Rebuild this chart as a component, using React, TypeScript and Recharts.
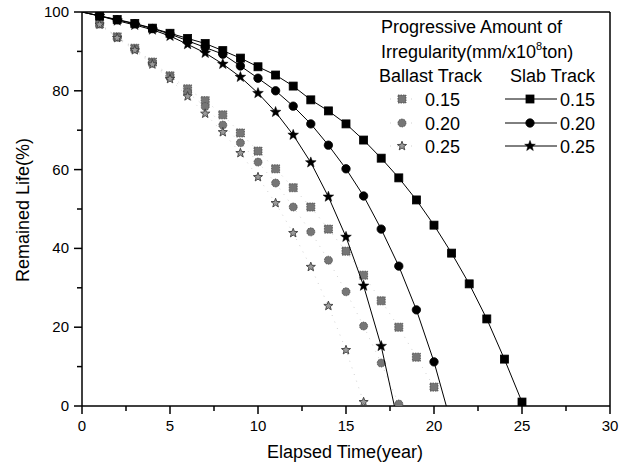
import React from "react";
import { ScatterChart, Scatter, XAxis, YAxis, ReferenceLine } from "recharts";

// elapsed years
const slabYears = [0, 1, 2, 3, 4, 5, 6, 7, 8, 9, 10, 11, 12, 13, 14, 15, 16, 17, 18, 19, 20, 21, 22, 23, 24, 25];
const ballastYears = [1, 2, 3, 4, 5, 6, 7, 8, 9, 10, 11, 12, 13, 14, 15, 16, 17, 18, 19, 20];

// remained life (%), slab track
const slab015 = [100, 99, 98.1, 97.1, 95.9, 94.6, 93.3, 92, 90.2, 88.3, 86.1, 84, 81.2, 77.7, 74.9, 71.6, 67.5, 62.9, 57.9, 52.3, 45.9, 38.8, 31, 22.1, 11.9, 1];
const slab020 = [100, 99, 98, 97, 95.8, 94.4, 92.7, 91, 89.3, 86.3, 83.2, 80, 76.1, 71.6, 66.2, 60.2, 53.3, 44.9, 35.5, 24.4, 11.2];
const slab025 = [100, 99, 97.8, 96.7, 95.5, 93.9, 91.8, 89.6, 86.8, 83.5, 79.4, 74.6, 68.8, 61.8, 53.1, 42.9, 30.5, 15.2];
// where the slab curves meet the axis (no marker)
const slab020End = { x: 20.7, y: 0 };
const slab025End = { x: 17.75, y: 0 };

// remained life (%), ballast track
const ballast015 = [97, 93.7, 90.8, 87.3, 83.8, 80.5, 77.5, 73.9, 69.3, 64.7, 60.2, 55.4, 50.5, 44.9, 39.3, 33.2, 26.7, 20, 12.4, 4.8];
const ballast020 = [97, 93.6, 90.6, 87, 83.5, 79.6, 76, 71.3, 66.8, 61.9, 56.6, 50.5, 44.2, 37, 29, 20.3, 10.9, 0.5];
const ballast025 = [96.8, 93.4, 90.3, 86.7, 83, 78.6, 74.2, 69.5, 64.2, 58.1, 51.5, 43.9, 35.3, 25.4, 14.2, 1];

const xTicks = [0, 2.5, 5, 7.5, 10, 12.5, 15, 17.5, 20, 22.5, 25, 27.5, 30];
const yTicks = [0, 10, 20, 30, 40, 50, 60, 70, 80, 90, 100];

const FONT = "'Liberation Sans', Arial, sans-serif";

const pts = (xs: number[], ys: number[]) =>
  ys.map((y, i) => ({ x: xs[i], y, hide: xs[i] === 0 }));

const starPath = (cx: number, cy: number, r: number) => {
  let d = "";
  for (let i = 0; i < 10; i++) {
    const rr = i % 2 === 0 ? r : r * 0.42;
    const a = -Math.PI / 2 + (i * Math.PI) / 5;
    d += (i === 0 ? "M" : "L") + (cx + rr * Math.cos(a)).toFixed(2) + "," + (cy + rr * Math.sin(a)).toFixed(2);
  }
  return d + "Z";
};

type Kind = "square" | "circle" | "star";

function marker(kind: Kind, cx: number, cy: number, ballast: boolean) {
  const fill = ballast ? "#767676" : "#000";
  const stroke = ballast ? "#4a4a4a" : "#000";
  if (kind === "square") {
    const s = ballast ? 8 : 8;
    return <rect x={cx - s / 2} y={cy - s / 2} width={s} height={s} fill={fill} stroke={stroke} strokeWidth={0.8} strokeDasharray={ballast ? "1.5 1" : undefined} />;
  }
  if (kind === "circle") {
    return <circle cx={cx} cy={cy} r={ballast ? 4 : 4.2} fill={fill} stroke={stroke} strokeWidth={0.8} strokeDasharray={ballast ? "1.5 1" : undefined} />;
  }
  return (
    <path
      d={starPath(cx, cy, ballast ? 4.8 : 5.6)}
      fill={ballast ? "#9a9a9a" : "#000"}
      stroke={ballast ? "#3c3c3c" : "#000"}
      strokeWidth={ballast ? 0.9 : 0.5}
    />
  );
}

const shape = (kind: Kind, ballast: boolean) => (props: any) => {
  if (props.payload?.hide || props.cx == null) return <g />;
  return marker(kind, props.cx, props.cy, ballast);
};

const XTick = ({ x, y, payload }: any) => {
  const major = payload.value % 5 === 0;
  return (
    <g>
      <line x1={x} y1={y} x2={x} y2={y + (major ? 8 : 5)} stroke="#000" strokeWidth={1.5} />
      {major && (
        <text x={x} y={y + 25} textAnchor="middle" fontSize={15} fontFamily={FONT} fill="#000">
          {payload.value}
        </text>
      )}
    </g>
  );
};

const YTick = ({ x, y, payload }: any) => {
  const major = payload.value % 20 === 0;
  return (
    <g>
      <line x1={x} y1={y} x2={x - (major ? 8 : 5)} y2={y} stroke="#000" strokeWidth={1.5} />
      {major && (
        <text x={x - 13} y={y + 5} textAnchor="end" fontSize={15} fontFamily={FONT} fill="#000">
          {payload.value}
        </text>
      )}
    </g>
  );
};

const legendRows: { label: string; kind: Kind; y: number }[] = [
  { label: "0.15", kind: "square", y: 99 },
  { label: "0.20", kind: "circle", y: 123 },
  { label: "0.25", kind: "star", y: 146 },
];

export default function App() {
  const slabLine = { stroke: "#000", strokeWidth: 1 };
  const ballastLine = { stroke: "#d2d2d2", strokeWidth: 1, strokeDasharray: "1 6" };
  const txt = { fontFamily: FONT, fontSize: 18, fill: "#000" };

  return (
    <div style={{ position: "absolute", left: 0, top: 0, width: 624, height: 471, background: "#fff" }}>
      <ScatterChart width={624} height={471} margin={{ top: 12, right: 14, bottom: 35, left: 22 }}>
        <XAxis
          type="number"
          dataKey="x"
          domain={[0, 30]}
          ticks={xTicks}
          tick={<XTick />}
          tickLine={false}
          tickSize={0}
          tickMargin={0}
          height={30}
          axisLine={{ stroke: "#000", strokeWidth: 1.5 }}
          allowDataOverflow
        />
        <YAxis
          type="number"
          dataKey="y"
          domain={[0, 100]}
          ticks={yTicks}
          tick={<YTick />}
          tickLine={false}
          tickSize={0}
          tickMargin={0}
          width={60}
          axisLine={{ stroke: "#000", strokeWidth: 1.5 }}
          allowDataOverflow
        />
        <ReferenceLine y={100} stroke="#000" strokeWidth={1.5} />
        <ReferenceLine x={30} stroke="#000" strokeWidth={1.5} />

        <Scatter data={pts(ballastYears, ballast015)} line={ballastLine} lineType="joint" shape={shape("square", true)} isAnimationActive={false} />
        <Scatter data={pts(ballastYears, ballast020)} line={ballastLine} lineType="joint" shape={shape("circle", true)} isAnimationActive={false} />
        <Scatter data={pts(ballastYears, ballast025)} line={ballastLine} lineType="joint" shape={shape("star", true)} isAnimationActive={false} />

        <Scatter data={pts(slabYears, slab015)} line={slabLine} lineType="joint" shape={shape("square", false)} isAnimationActive={false} />
        <Scatter
          data={[...pts(slabYears, slab020), { ...slab020End, hide: true }]}
          line={slabLine}
          lineType="joint"
          shape={shape("circle", false)}
          isAnimationActive={false}
        />
        <Scatter
          data={[...pts(slabYears, slab025), { ...slab025End, hide: true }]}
          line={slabLine}
          lineType="joint"
          shape={shape("star", false)}
          isAnimationActive={false}
        />
      </ScatterChart>

      <svg width={624} height={471} style={{ position: "absolute", left: 0, top: 0, pointerEvents: "none" }}>
        <text x={381} y={33} {...txt}>Progressive Amount of</text>
        <text x={381} y={58} {...txt}>
          Irregularity(mm/x10
          <tspan fontSize={11} dy={-8}>8</tspan>
          <tspan dy={8}>ton)</tspan>
        </text>
        <text x={379} y={82} {...txt}>Ballast Track</text>
        <text x={510} y={82} {...txt}>Slab Track</text>
        {legendRows.map((r) => (
          <g key={r.label}>
            <line x1={390} y1={r.y} x2={416} y2={r.y} stroke="#d2d2d2" strokeDasharray="1 6" />
            {marker(r.kind, 402, r.y, true)}
            <text x={425} y={r.y + 6.5} {...txt}>{r.label}</text>
            <line x1={505} y1={r.y} x2={557} y2={r.y} stroke="#000" strokeWidth={1} />
            {marker(r.kind, 530, r.y, false)}
            <text x={560} y={r.y + 6.5} {...txt}>{r.label}</text>
          </g>
        ))}
        <text x={345} y={458} textAnchor="middle" {...txt}>Elapsed Time(year)</text>
        <text x={29} y={210} textAnchor="middle" transform="rotate(-90 29 210)" {...txt}>
          Remained Life(%)
        </text>
      </svg>
    </div>
  );
}
